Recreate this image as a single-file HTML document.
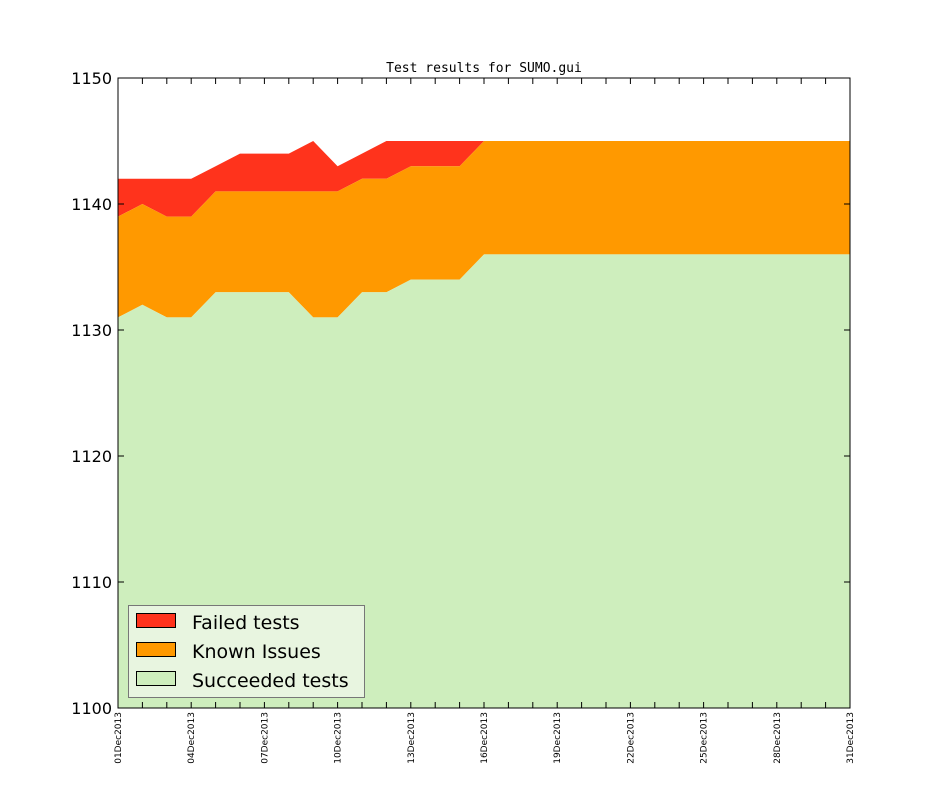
<!DOCTYPE html>
<html><head><style>
body{margin:0;background:#fff;}
svg{display:block;font-family:"DejaVu Sans",sans-serif;}
</style></head><body>
<svg id="s" width="944" height="787" xmlns="http://www.w3.org/2000/svg"></svg>
<script>
const X0=118,X1=850,Y0=78,Y1=708;
const x=d=>X0+(X1-X0)*d/30, y=v=>Y1-(v-1100)*(Y1-Y0)/50;
const g=[1131,1132,1131,1131,1133,1133,1133,1133,1131,1131,1133,1133,1134,1134,1134];
const o=[1139,1140,1139,1139,1141,1141,1141,1141,1141,1141,1142,1142,1143,1143,1143];
const r=[1142,1142,1142,1142,1143,1144,1144,1144,1145,1143,1144,1145,1145,1145,1145];
for(let i=15;i<=30;i++){g.push(1136);o.push(1145);r.push(1145);}
function poly(top,bot,c){let p=top.map((v,i)=>x(i)+','+y(v));for(let i=30;i>=0;i--)p.push(x(i)+','+(bot?y(bot[i]):Y1));return `<polygon points="${p.join(' ')}" fill="${c}"/>`;}
let s='';
s+=poly(r,o,'#ff331c')+poly(o,g,'#ff9900')+poly(g,null,'#ceeebd');
s+=`<rect x="${X0}" y="${Y0}" width="${X1-X0}" height="${Y1-Y0}" fill="none" stroke="#000" stroke-width="1"/>`;
for(let v=1100;v<=1150;v+=10){let yy=y(v);s+=`<line x1="${X0}" x2="${X0+6}" y1="${yy}" y2="${yy}" stroke="#000"/><line x1="${X1-6}" x2="${X1}" y1="${yy}" y2="${yy}" stroke="#000"/><text x="${X0-6}" y="${yy+6}" font-size="16" text-anchor="end">${v}</text>`;}
for(let d=0;d<=30;d++){let xx=x(d);s+=`<line x1="${xx}" x2="${xx}" y1="${Y1}" y2="${Y1-6}" stroke="#000"/><line x1="${xx}" x2="${xx}" y1="${Y0}" y2="${Y0+6}" stroke="#000"/>`;
if(d%3==0){let lab=String(d+1).padStart(2,'0')+'Dec2013';s+=`<text transform="translate(${xx+3},712) rotate(-90)" font-size="9" text-anchor="end">${lab}</text>`;}}
s+=`<text x="484" y="72" font-size="13" font-family="DejaVu Sans Mono,monospace" text-anchor="middle">Test results for SUMO.gui</text>`;
s+=`<rect x="128.5" y="605.5" width="236" height="92" fill="#e8f5e0" stroke="#777"/>`;
[['#ff331c','Failed tests',622],['#ff9900','Known Issues',651],['#ceeebd','Succeeded tests',680]].forEach(([c,t,yy])=>{s+=`<rect x="136.5" y="${yy-8.5}" width="39" height="14" fill="${c}" stroke="#000"/><text x="192" y="${yy+7}" font-size="19">${t}</text>`;});
document.getElementById('s').innerHTML=s;
</script>
</body></html>
